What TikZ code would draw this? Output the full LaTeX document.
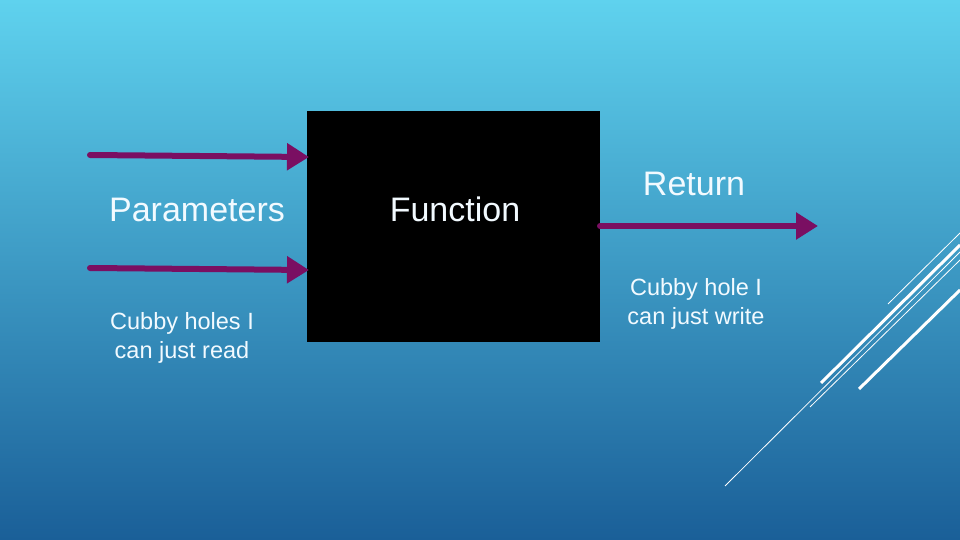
\documentclass[tikz,border=0pt]{standalone}
\usepackage{fontspec}
\setmainfont{Liberation Sans}
\usetikzlibrary{arrows.meta,positioning}
\definecolor{skytop}{HTML}{5FD2EE}
\definecolor{skybot}{HTML}{1A5F98}
\definecolor{plum}{HTML}{7A0F62}
\definecolor{chalk}{HTML}{F2FAFF}
\tikzset{
  feed/.style={plum,line width=6pt,line cap=round,-{Triangle[length=22pt,width=26pt]}},
  bigtext/.style={text=chalk,font=\fontsize{34}{38}\selectfont},
  smalltext/.style={text=chalk,font=\fontsize{23.5}{29}\selectfont,align=center},
  deco/.style={white,line width=3pt},
  decothin/.style={white,line width=0.8pt}
}
\begin{document}
\begin{tikzpicture}[x=1pt,y=-1pt]

  % background
  \shade[top color=skytop,bottom color=skybot] (0,0) rectangle (960,540);
  \useasboundingbox (0,0) rectangle (960,540);

  % function box
  \fill[black] (307,111) rectangle (600,342);
  \node[bigtext] (func) at (455,209) {Function};

  % inputs
  \coordinate (inA) at (90,155);
  \coordinate (inB) at (90,268);
  \coordinate (boxA) at (309,157);
  \coordinate (boxB) at (309,270);
  \draw[feed] (inA) -- (boxA);
  \draw[feed] (inB) -- (boxB);
  \node[bigtext] (params) at (197,210) {Parameters};
  \node[smalltext] (readnote) at (182,338) {Cubby holes I\\can just read};

  % output
  \coordinate (outA) at (600,226);
  \coordinate (outB) at (818,226);
  \draw[feed] (outA) -- (outB);
  \node[bigtext] (ret) at (694,184) {Return};
  \node[smalltext] (writenote) at (696,304) {Cubby hole I\\can just write};

  % corner lines
  \draw[deco] (821,383) -- (960,245);
  \draw[deco] (859,389) -- (960,290);
  \draw[decothin] (888,304) -- (960,233);
  \draw[decothin] (725,486) -- (960,252);
  \draw[decothin] (810,407) -- (960,260);

\end{tikzpicture}
\end{document}
